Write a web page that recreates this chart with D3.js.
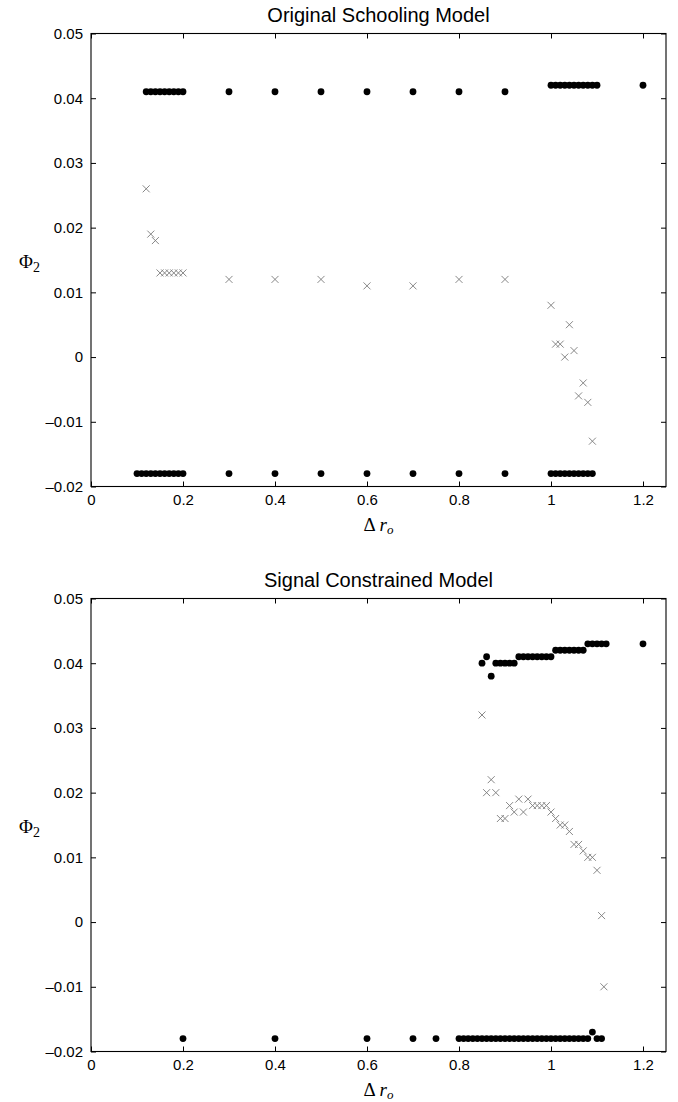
<!DOCTYPE html>
<html>
<head>
<meta charset="utf-8">
<script src="https://cdn.jsdelivr.net/npm/d3@7"></script>
<style>
  body { margin: 0; background: #fff; }
  svg { display: block; }
</style>
</head>
<body>
<svg id="fig" width="678" height="1102"></svg>
<script>
// Axis ticks shared by both panels
const xTicks = [0, 0.2, 0.4, 0.6, 0.8, 1, 1.2];
const yTicks = [0.05, 0.04, 0.03, 0.02, 0.01, 0, -0.01, -0.02];

// Original Schooling Model: stable equilibria (dots) and unstable ones (crosses)
const origStableHigh = [
  [0.12, 0.041], [0.13, 0.041], [0.14, 0.041], [0.15, 0.041], [0.16, 0.041],
  [0.17, 0.041], [0.18, 0.041], [0.19, 0.041], [0.20, 0.041],
  [0.3, 0.041], [0.4, 0.041], [0.5, 0.041], [0.6, 0.041], [0.7, 0.041],
  [0.8, 0.041], [0.9, 0.041],
  [1.00, 0.042], [1.01, 0.042], [1.02, 0.042], [1.03, 0.042], [1.04, 0.042],
  [1.05, 0.042], [1.06, 0.042], [1.07, 0.042], [1.08, 0.042], [1.09, 0.042],
  [1.10, 0.042], [1.2, 0.042]
];
const origStableLow = [
  [0.10, -0.018], [0.11, -0.018], [0.12, -0.018], [0.13, -0.018], [0.14, -0.018],
  [0.15, -0.018], [0.16, -0.018], [0.17, -0.018], [0.18, -0.018], [0.19, -0.018],
  [0.20, -0.018],
  [0.3, -0.018], [0.4, -0.018], [0.5, -0.018], [0.6, -0.018], [0.7, -0.018],
  [0.8, -0.018], [0.9, -0.018],
  [1.00, -0.018], [1.01, -0.018], [1.02, -0.018], [1.03, -0.018], [1.04, -0.018],
  [1.05, -0.018], [1.06, -0.018], [1.07, -0.018], [1.08, -0.018], [1.09, -0.018]
];
const origUnstable = [
  [0.12, 0.026], [0.13, 0.019], [0.14, 0.018], [0.15, 0.013], [0.16, 0.013],
  [0.17, 0.013], [0.18, 0.013], [0.19, 0.013], [0.20, 0.013],
  [0.3, 0.012], [0.4, 0.012], [0.5, 0.012], [0.6, 0.011], [0.7, 0.011],
  [0.8, 0.012], [0.9, 0.012],
  [1.00, 0.008], [1.01, 0.002], [1.02, 0.002], [1.03, 0.000], [1.04, 0.005],
  [1.05, 0.001], [1.06, -0.006], [1.07, -0.004], [1.08, -0.007], [1.09, -0.013]
];

// Signal Constrained Model
const sigStableHigh = [
  [0.85, 0.040], [0.86, 0.041], [0.87, 0.038],
  [0.88, 0.040], [0.89, 0.040], [0.90, 0.040], [0.91, 0.040], [0.92, 0.040],
  [0.93, 0.041], [0.94, 0.041], [0.95, 0.041], [0.96, 0.041], [0.97, 0.041],
  [0.98, 0.041], [0.99, 0.041], [1.00, 0.041],
  [1.01, 0.042], [1.02, 0.042], [1.03, 0.042], [1.04, 0.042], [1.05, 0.042],
  [1.06, 0.042], [1.07, 0.042],
  [1.08, 0.043], [1.09, 0.043], [1.10, 0.043], [1.11, 0.043], [1.12, 0.043],
  [1.2, 0.043]
];
const sigStableLow = [
  [0.2, -0.018], [0.4, -0.018], [0.6, -0.018], [0.7, -0.018], [0.75, -0.018],
  [0.80, -0.018], [0.81, -0.018], [0.82, -0.018], [0.83, -0.018], [0.84, -0.018],
  [0.85, -0.018], [0.86, -0.018], [0.87, -0.018], [0.88, -0.018], [0.89, -0.018],
  [0.90, -0.018], [0.91, -0.018], [0.92, -0.018], [0.93, -0.018], [0.94, -0.018],
  [0.95, -0.018], [0.96, -0.018], [0.97, -0.018], [0.98, -0.018], [0.99, -0.018],
  [1.00, -0.018], [1.01, -0.018], [1.02, -0.018], [1.03, -0.018], [1.04, -0.018],
  [1.05, -0.018], [1.06, -0.018], [1.07, -0.018], [1.08, -0.018],
  [1.09, -0.017], [1.10, -0.018], [1.11, -0.018]
];
const sigUnstable = [
  [0.85, 0.032], [0.86, 0.020], [0.87, 0.022], [0.88, 0.020], [0.89, 0.016],
  [0.90, 0.016], [0.91, 0.018], [0.92, 0.017], [0.93, 0.019], [0.94, 0.017],
  [0.95, 0.019], [0.96, 0.018], [0.97, 0.018], [0.98, 0.018], [0.99, 0.018],
  [1.00, 0.017], [1.01, 0.016], [1.02, 0.015], [1.03, 0.015], [1.04, 0.014],
  [1.05, 0.012], [1.06, 0.012], [1.07, 0.011], [1.08, 0.010], [1.09, 0.010],
  [1.10, 0.008], [1.11, 0.001], [1.115, -0.010]
];

const panels = [
  { title: "Original Schooling Model", top: 33.5,
    stable: origStableHigh.concat(origStableLow), unstable: origUnstable },
  { title: "Signal Constrained Model", top: 598.5,
    stable: sigStableHigh.concat(sigStableLow), unstable: sigUnstable }
];

const left = 91, right = 666, plotH = 453;
const sans = "'Liberation Sans', Arial, Helvetica, sans-serif";
const serif = "'Liberation Serif', 'Times New Roman', serif";

const svg = d3.select("#fig");
svg.append("rect").attr("width", 678).attr("height", 1102).attr("fill", "#fff");

const x = d3.scaleLinear().domain([0, 1.25]).range([left, right]);
const fmtY = v => v === 0 ? "0" : (v < 0 ? "\u2013" + d3.format(".2f")(-v) : d3.format(".2f")(v));
const fmtX = v => d3.format("~g")(v);

panels.forEach(p => {
  const y = d3.scaleLinear().domain([-0.02, 0.05]).range([p.top + plotH, p.top]);
  const g = svg.append("g");

  // frame
  g.append("rect")
    .attr("x", left).attr("y", p.top)
    .attr("width", right - left).attr("height", plotH)
    .attr("fill", "none").attr("stroke", "#000").attr("stroke-width", 1.1);

  // inward ticks on all four sides
  const styleAxis = sel => {
    sel.select(".domain").remove();
    sel.selectAll(".tick line").attr("stroke", "#000").attr("stroke-width", 1);
    sel.selectAll("text").attr("font-family", sans).attr("font-size", 15).attr("fill", "#000");
  };
  g.append("g").attr("transform", `translate(0,${p.top + plotH})`)
    .call(d3.axisBottom(x).tickValues(xTicks).tickFormat(fmtX).tickSizeInner(-5).tickSizeOuter(0).tickPadding(8))
    .call(styleAxis);
  g.append("g").attr("transform", `translate(0,${p.top})`)
    .call(d3.axisTop(x).tickValues(xTicks).tickFormat("").tickSizeInner(-5).tickSizeOuter(0))
    .call(styleAxis);
  g.append("g").attr("transform", `translate(${left},0)`)
    .call(d3.axisLeft(y).tickValues(yTicks).tickFormat(fmtY).tickSizeInner(-5).tickSizeOuter(0).tickPadding(8))
    .call(styleAxis);
  g.append("g").attr("transform", `translate(${right},0)`)
    .call(d3.axisRight(y).tickValues(yTicks).tickFormat("").tickSizeInner(-5).tickSizeOuter(0))
    .call(styleAxis);

  // unstable equilibria
  const c = 3.5;
  g.append("g").selectAll("path").data(p.unstable).join("path")
    .attr("transform", d => `translate(${x(d[0])},${y(d[1])})`)
    .attr("d", `M${-c},${-c}L${c},${c}M${-c},${c}L${c},${-c}`)
    .attr("stroke", "#7a7a7a").attr("stroke-width", 0.9).attr("fill", "none");

  // stable equilibria
  g.append("g").selectAll("circle").data(p.stable).join("circle")
    .attr("cx", d => x(d[0])).attr("cy", d => y(d[1]))
    .attr("r", 3.4).attr("fill", "#000");

  // title
  g.append("text")
    .attr("x", (left + right) / 2).attr("y", p.top - 12)
    .attr("text-anchor", "middle")
    .attr("font-family", sans).attr("font-size", 20).attr("fill", "#000")
    .text(p.title);

  // x label: Δ r_o
  const xl = g.append("text")
    .attr("x", (left + right) / 2).attr("y", p.top + plotH + 44)
    .attr("text-anchor", "middle")
    .attr("font-family", serif).attr("font-size", 19).attr("fill", "#000");
  xl.append("tspan").text("\u0394 ");
  xl.append("tspan").attr("font-style", "italic").text("r");
  xl.append("tspan").attr("font-style", "italic").attr("font-size", 13).attr("dy", 3).text("o");

  // y label: Φ2
  const yl = g.append("text")
    .attr("x", 19).attr("y", p.top + 234.5)
    .attr("font-family", serif).attr("font-size", 19).attr("fill", "#000");
  yl.append("tspan").text("\u03A6");
  yl.append("tspan").attr("font-size", 14).attr("dy", 4).text("2");
});
</script>
</body>
</html>
